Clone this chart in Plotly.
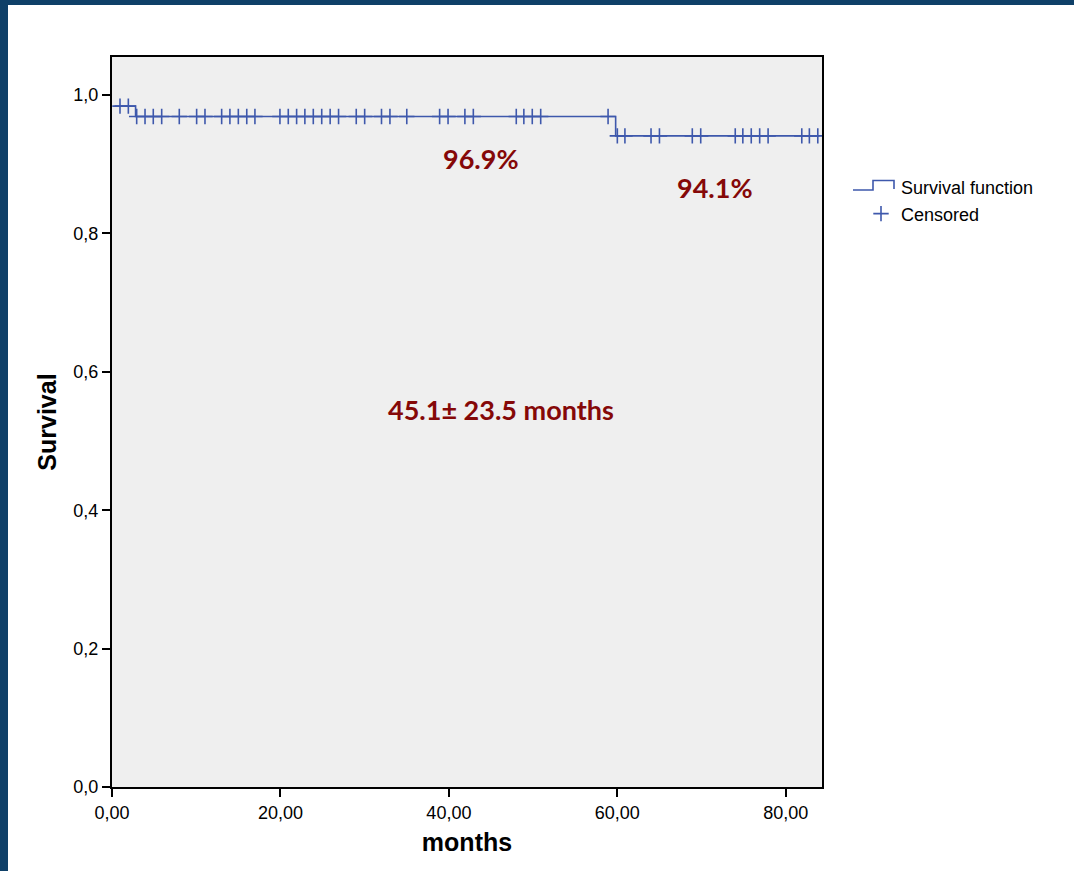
import numpy as np
import plotly.graph_objects as go

# ---- data ----
step_times = [0.3, 2.8, 59.8, 84.0]
step_surv = [0.984, 0.969, 0.941, 0.941]

censored_times = [0.95, 1.94,
                  2.93, 3.92, 4.9, 5.9, 7.99, 10.05, 11.04, 13.02, 14.0, 15.0, 16.0, 16.97,
                  19.94, 20.93, 21.92, 22.9, 23.9, 24.9, 25.9, 26.9, 29.0, 30.0, 32.0, 33.0,
                  35.0, 38.9, 39.9, 41.9, 42.9, 48.0, 48.9, 49.9, 50.9, 58.9,
                  60.0, 60.9, 64.0, 65.0, 68.9, 69.9, 74.0, 74.9, 75.9, 76.9, 77.9,
                  81.9, 82.8, 83.8]

x_tickvals = [0, 20, 40, 60, 80]
x_ticktext = ["0,00", "20,00", "40,00", "60,00", "80,00"]
y_tickvals = [0.0, 0.2, 0.4, 0.6, 0.8, 1.0]
y_ticktext = ["0,0", "0,2", "0,4", "0,6", "0,8", "1,0"]

annot_texts = ["96.9%", "94.1%", "45.1\u00b1 23.5 months"]
annot_x = [43.8, 71.6, 46.2]
annot_y = [0.909, 0.867, 0.546]

# survival value at each censored time (step function lookup)
idx = np.searchsorted(np.array(step_times), np.array(censored_times), side="right") - 1
censored_surv = [step_surv[i] for i in idx]

BLUE = "#3e58ac"
RED = "#850808"
FRAME = "#0f4068"

fig = go.Figure()
fig.add_trace(go.Scatter(
    x=step_times, y=step_surv, mode="lines", line=dict(shape="hv", color=BLUE, width=1.6),
    name="Survival function", showlegend=False))
# legend entry for the survival function (icon drawn as step path below)
fig.add_trace(go.Scatter(
    x=[None], y=[None], mode="lines", line=dict(color="rgba(0,0,0,0)", width=1),
    name="Survival function"))
fig.add_trace(go.Scatter(
    x=censored_times, y=censored_surv, mode="markers",
    marker=dict(symbol="cross-thin", size=11, line=dict(color=BLUE, width=1.6), color=BLUE),
    name="Censored"))

for t, ax, ay in zip(annot_texts, annot_x, annot_y):
    fig.add_annotation(x=ax, y=ay, text=t, showarrow=False,
                       font=dict(family="Lato", size=27, color=RED, weight="bold"))

L, R, T, B = 112, 252, 57, 84
W, H = 1074, 871
pw, ph = W - L - R, H - T - B

def px_x(p):
    return (p - L) / pw

def px_y(p):
    return (H - B - p) / ph

fig.add_shape(type="rect", xref="paper", yref="paper", x0=px_x(0), x1=px_x(8),
              y0=px_y(H), y1=px_y(0), fillcolor=FRAME, line_width=0, layer="above")
fig.add_shape(type="rect", xref="paper", yref="paper", x0=px_x(0), x1=px_x(W),
              y0=px_y(5), y1=px_y(0), fillcolor=FRAME, line_width=0, layer="above")

# step-shaped legend icon
pts = [(853, 190), (873, 190), (873, 180.5), (894, 180.5), (894, 189)]
path = "M " + " L ".join(f"{px_x(a):.5f},{px_y(b):.5f}" for a, b in pts)
fig.add_shape(type="path", xref="paper", yref="paper", path=path,
              line=dict(color=BLUE, width=1.6), layer="above")

tick_font = dict(family="Liberation Sans, Arial", size=18, color="black")
fig.update_layout(
    width=W, height=H,
    margin=dict(l=L, r=R, t=T, b=B),
    paper_bgcolor="white", plot_bgcolor="#efefef",
    showlegend=True,
    legend=dict(x=px_x(861), y=px_y(169), xanchor="left", yanchor="top",
                font=dict(family="Liberation Sans, Arial", size=18, color="black"),
                bgcolor="rgba(0,0,0,0)", tracegroupgap=0, itemwidth=30),
    xaxis=dict(range=[0, 84.3], tickvals=x_tickvals, ticktext=x_ticktext,
               ticks="outside", ticklen=8, tickwidth=2, tickcolor="black",
               showline=True, linecolor="black", linewidth=2, mirror=True,
               showgrid=False, zeroline=False, tickfont=tick_font,
               title=dict(text="<b>months</b>", font=dict(family="Liberation Sans, Arial", size=25, color="black"), standoff=12)),
    yaxis=dict(range=[0, 1.055], tickvals=y_tickvals, ticktext=y_ticktext,
               ticks="outside", ticklen=8, tickwidth=2, tickcolor="black",
               showline=True, linecolor="black", linewidth=2, mirror=True,
               showgrid=False, zeroline=False, tickfont=tick_font,
               title=dict(text="<b>Survival</b>", font=dict(family="Liberation Sans, Arial", size=25, color="black"), standoff=10)),
)

fig.write_html("out.html")
